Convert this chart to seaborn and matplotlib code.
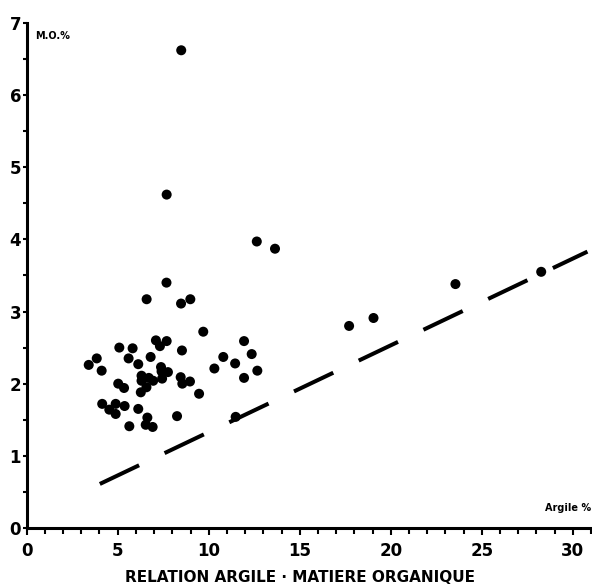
import matplotlib
matplotlib.use("Agg")
import matplotlib.pyplot as plt
import seaborn as sns
import pandas as pd
from matplotlib.ticker import MultipleLocator

# Data: clay % (argile) vs organic matter % (M.O.)
argile = [8.49, 7.69, 12.64, 13.64, 7.68, 6.59, 8.48, 8.99, 9.70,
          5.09, 5.82, 7.10, 7.69, 7.32, 8.53, 3.85, 3.41, 4.12, 5.60,
          6.13, 6.81, 7.38, 7.41, 7.76, 5.03, 5.35, 6.31, 6.31, 6.71,
          6.95, 7.44, 6.58, 6.27, 8.46, 8.55, 8.97, 9.47, 10.31, 10.80,
          11.45, 11.94, 12.36, 12.67, 11.94, 4.15, 4.54, 4.89, 4.89,
          5.38, 6.13, 5.64, 6.63, 6.54, 6.92, 8.26, 11.48, 17.71, 19.05,
          23.55, 28.26]
mo = [6.62, 4.62, 3.97, 3.87, 3.40, 3.17, 3.11, 3.17, 2.72,
      2.50, 2.49, 2.60, 2.59, 2.52, 2.46, 2.35, 2.26, 2.18, 2.35,
      2.27, 2.37, 2.23, 2.17, 2.16, 2.00, 1.94, 2.11, 2.04, 2.08,
      2.04, 2.07, 1.95, 1.88, 2.09, 2.00, 2.03, 1.86, 2.21, 2.37,
      2.28, 2.59, 2.41, 2.18, 2.08, 1.72, 1.64, 1.72, 1.58,
      1.69, 1.65, 1.41, 1.53, 1.43, 1.40, 1.55, 1.54, 2.80, 2.91,
      3.38, 3.55]

# Dashed limit line
line_x = [4.02, 30.8]
line_y = [0.61, 3.83]

x_ticks = [0, 5, 10, 15, 20, 25, 30]
y_ticks = [0, 1, 2, 3, 4, 5, 6, 7]
title = "RELATION ARGILE · MATIERE ORGANIQUE"

sns.set_theme(style="white")
plt.rcParams['font.family'] = ['DejaVu Sans']
plt.rcParams['text.color'] = 'black'
plt.rcParams['xtick.color'] = 'black'
plt.rcParams['ytick.color'] = 'black'

fig = plt.figure(figsize=(5.92, 5.86), dpi=100)
ax = fig.add_axes([0.045, 0.099, 0.955, 0.862])

df = pd.DataFrame({"argile": argile, "mo": mo})
sns.scatterplot(data=df, x="argile", y="mo", ax=ax, color="black",
                s=52, edgecolor="none", linewidth=0, zorder=3)

sns.lineplot(x=line_x, y=line_y, ax=ax, color="black", linewidth=2.9,
             estimator=None, sort=False)
ax.lines[-1].set_dashes([10.8, 7.0])

ax.set_xlim(0, 31.05)
ax.set_ylim(0, 7)
ax.set_xticks(x_ticks)
ax.set_yticks(y_ticks)
ax.xaxis.set_minor_locator(MultipleLocator(1))
ax.yaxis.set_minor_locator(MultipleLocator(0.5))
ax.tick_params(axis="both", which="both", direction="out", color="black",
               labelcolor="black")
ax.tick_params(axis="x", which="major", length=5, width=1.5, pad=5,
               labelsize=12)
ax.tick_params(axis="x", which="minor", length=4, width=1.5)
ax.tick_params(axis="y", which="major", length=3, width=1.5, pad=1,
               labelsize=12)
ax.tick_params(axis="y", which="minor", length=3, width=1.5)
ax.tick_params(bottom=True, left=True, which="both")
for lab in ax.get_xticklabels() + ax.get_yticklabels():
    lab.set_fontweight("bold")

for side in ["top", "right"]:
    ax.spines[side].set_visible(False)
for side in ["left", "bottom"]:
    ax.spines[side].set_color("black")
    ax.spines[side].set_linewidth(2.2)

ax.set_xlabel("")
ax.set_ylabel("")
ax.text(0.45, 6.82, "M.O.%", fontsize=7, fontweight="bold", ha="left",
        va="center", color="black")
ax.text(31.0, 0.28, "Argile %", fontsize=7, fontweight="bold", ha="right",
        va="center", color="black")

fig.text(0.507, 0.014, title, ha="center", va="center", fontsize=11,
         fontweight="bold", color="black")

fig.savefig("out.png", dpi=100)
